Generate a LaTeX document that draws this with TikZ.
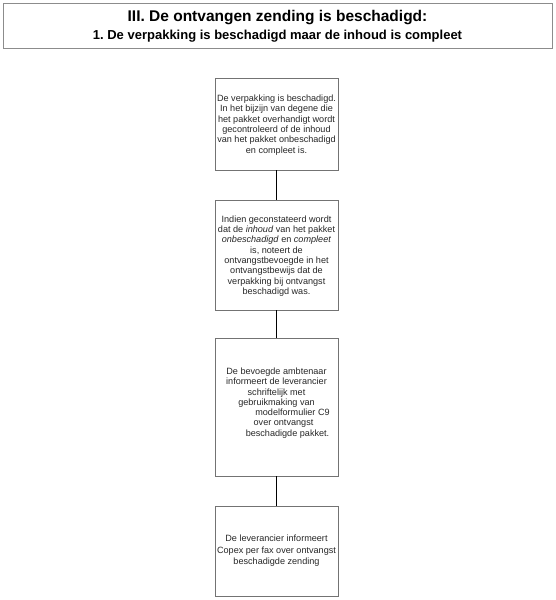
\documentclass[tikz,border=0pt]{standalone}
\usepackage{fontspec}
\setmainfont{Liberation Sans}
\frenchspacing
\begin{document}
\begin{tikzpicture}[x=1pt,y=-1pt,
  stepbox/.style={draw=black!55,line width=0.8pt,minimum width=123pt,inner sep=0pt},
  steptext/.style={align=center,font=\fontsize{9.1}{10.3}\selectfont,text=black!85,inner sep=0pt},
  titlefont/.style={inner sep=0pt,font=\bfseries},
  link/.style={draw=black,line width=0.9pt}]
\useasboundingbox (0,0) rectangle (555,600);
\node[draw=black!45,line width=0.8pt,minimum width=549pt,minimum height=45pt,inner sep=0pt] (title) at (277.5,25.5) {};
\node[titlefont,font=\fontsize{15.5}{18}\selectfont\bfseries] (title1) at (277.5,18) {III. De ontvangen zending is beschadigd:};
\node[titlefont,font=\fontsize{13}{16}\selectfont\bfseries] (title2) at (277.5,36.5) {1. De verpakking is beschadigd maar de inhoud is compleet};

\node[stepbox,minimum height=92pt] (b1) at (276.5,124) {};
\node[steptext] (t1) at (276.5,125) {De verpakking is beschadigd.\\In het bijzijn van degene die\\het pakket overhandigt wordt\\gecontroleerd of de inhoud\\van het pakket onbeschadigd\\en compleet is.};

\node[stepbox,minimum height=110pt] (b2) at (276.5,255) {};
\node[steptext] (t2) at (276.5,256) {Indien geconstateerd wordt\\dat de \textit{inhoud} van het pakket\\\textit{onbeschadigd} en \textit{compleet}\\is, noteert de\\ontvangstbevoegde in het\\ontvangstbewijs dat de\\verpakking bij ontvangst\\beschadigd was.};

\node[stepbox,minimum height=138pt] (b3) at (276.5,407) {};
\node[steptext] (t3) at (276.5,403) {De bevoegde ambtenaar\\informeert de leverancier\\schriftelijk met\\gebruikmaking van\\\hspace*{32pt}modelformulier C9\\\hspace*{14pt}over ontvangst\\\hspace*{22pt}beschadigde pakket.};

\node[stepbox,minimum height=90pt] (b4) at (276.5,551) {};
\node[steptext,font=\fontsize{9.1}{11.5}\selectfont] (t4) at (276.5,551) {De leverancier informeert\\Copex per fax over ontvangst\\beschadigde zending};

\draw[link] (b1.south) -- (b2.north);
\draw[link] (b2.south) -- (b3.north);
\draw[link] (b3.south) -- (b4.north);
\end{tikzpicture}
\end{document}
